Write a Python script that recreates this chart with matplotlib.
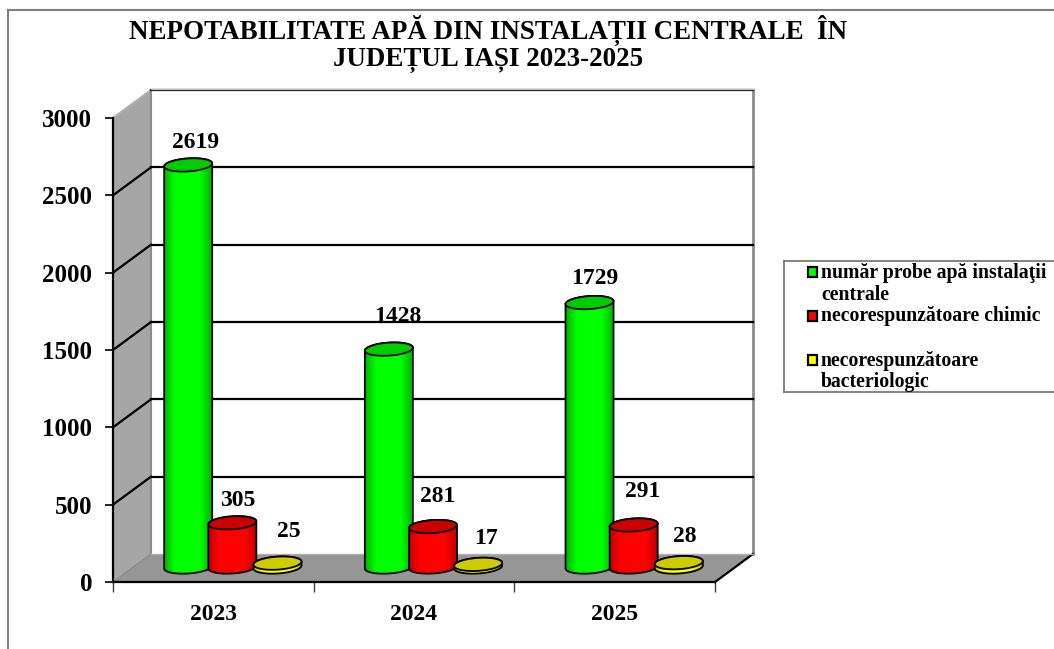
import matplotlib
matplotlib.use('Agg')
import matplotlib.pyplot as plt
from matplotlib.colors import LinearSegmentedColormap
from matplotlib.lines import Line2D
from matplotlib.patches import Polygon, Rectangle
import numpy as np

years = ['2023', '2024', '2025']
probe = [2619, 1428, 1729]
chimic = [305, 281, 291]
bacterio = [25, 17, 28]
yticks = [0, 500, 1000, 1500, 2000, 2500, 3000]

title_lines = ['NEPOTABILITATE APĂ DIN INSTALAȚII CENTRALE  ÎN', 'JUDEȚUL IAȘI 2023-2025']

W, H = 1054, 649
plt.rcParams['font.family'] = ['Liberation Serif', 'DejaVu Serif']
plt.rcParams['font.weight'] = 'bold'

fig = plt.figure(figsize=(W / 100, H / 100), dpi=100, facecolor='white')
# the axes is the front plane of the fake 3D box
ax = fig.add_axes([113 / W, (H - 582) / H, 602 / W, 464 / H])
ax.set_xlim(0, 3)
ax.set_ylim(0, 3000)
ax.patch.set_visible(False)

# pixels to data units
px_x = 3 / 602
px_y = 3000 / 464
depth_x = 38 * px_x
depth_y = 28 * px_y


def box(points, color, z):
    ax.add_patch(Polygon(points, closed=True, facecolor=color, edgecolor='none',
                         clip_on=False, zorder=z))


def line(xs, ys, color='black', lw=1.6, z=2):
    ax.add_line(Line2D(xs, ys, color=color, lw=lw, clip_on=False, zorder=z))


# walls
box([(0, 0), (depth_x, depth_y), (depth_x, 3000 + depth_y), (0, 3000)], '#a6a6a6', 1)
box([(0, 0), (depth_x, depth_y), (3 + depth_x, depth_y), (3, 0)], '#969696', 1)
line([depth_x, depth_x], [depth_y, 3000 + depth_y], '#8c8c8c', 1.5)
line([3 + depth_x, 3 + depth_x], [depth_y, 3000 + depth_y], '#8c8c8c', 2)
line([0, depth_x], [3000, 3000 + depth_y], '#b0b0b0', 1.5)
line([depth_x, 3 + depth_x], [3000 + depth_y, 3000 + depth_y], 'black', 1.6)
line([depth_x, 3 + depth_x], [3000 + depth_y + 6, 3000 + depth_y + 6], '#c0c0c0', 1)
line([3, 3 + depth_x], [0, depth_y], 'black', 1.6, 2)
line([0, depth_x], [0, depth_y], '#8c8c8c', 1, 2)
line([depth_x, 3 + depth_x], [depth_y, depth_y], '#b0b0b0', 1, 2)

# grid on side and back wall
for v in yticks[1:-1]:
    line([0, depth_x], [v, v + depth_y])
    line([depth_x, 3 + depth_x], [v + depth_y, v + depth_y])

half_w = 24 * px_x
half_h = 6.5 * px_y
tilt = 1.5 * px_y
mid_x = depth_x / 2
base_y = 15 * px_y
top_base_y = 12 * px_y


def ellipse(cx, cy, t):
    return np.column_stack([cx + half_w * np.cos(t),
                            cy + half_h * np.sin(t) + tilt * np.cos(t)])


def cylinder(cx, value, dark, bright, top_color, z):
    # flat discs keep their small height
    top = base_y + value if value < 100 else top_base_y + value
    t_low = np.linspace(np.pi, 2 * np.pi, 60)
    t_up = np.linspace(0, np.pi, 60)
    outline = np.vstack([ellipse(cx, base_y, t_low), ellipse(cx, top, t_up)])

    cmap = LinearSegmentedColormap.from_list('c', [(0, dark), (0.22, bright), (0.75, bright), (1, dark)])
    im = ax.imshow(np.linspace(0, 1, 64).reshape(1, -1), cmap=cmap, aspect='auto',
                   extent=[cx - half_w, cx + half_w, base_y - 2 * half_h, top + 2 * half_h],
                   zorder=z)
    body = Polygon(outline, closed=True, facecolor='none', edgecolor='black', lw=1.3, zorder=z + 0.1)
    ax.add_patch(body)
    im.set_clip_path(body)
    ax.add_patch(Polygon(ellipse(cx, top, np.linspace(0, 2 * np.pi, 120)), closed=True,
                         facecolor=top_color, edgecolor='black', lw=1.3, zorder=z + 0.2))


series = [
    (probe, -0.22, '#00b400', '#00ff00', '#00cc00'),
    (chimic, 0.0, '#c00000', '#ff0000', '#cc0000'),
    (bacterio, 0.225, '#c8c800', '#ffff00', '#cccc00'),
]
# data labels were moved by hand in the original, offsets in px from the bar top
label_dx = [[7, 9, 5], [5, 5, 9], [11, 8, 6]]
label_dy = [[19, 30, 21], [19, 27, 30], [32, 26, 26]]

z = 3
for s, (vals, off, dark, bright, top_color) in enumerate(series):
    for i, v in enumerate(vals):
        cx = i + 0.5 + off + mid_x
        cylinder(cx, v, dark, bright, top_color, z)
        ax.text(cx + label_dx[s][i] * px_x, base_y + v + label_dy[s][i] * px_y, str(v),
                ha='center', va='center', fontsize=17, color='black', zorder=20, clip_on=False)
        z += 1

ax.set_xlim(0, 3)
ax.set_ylim(0, 3000)

# axes
for name in ['top', 'right']:
    ax.spines[name].set_visible(False)
for name in ['left', 'bottom']:
    ax.spines[name].set_linewidth(1.6)
    ax.spines[name].set_zorder(2.5)
ax.set_yticks(yticks)
ax.set_yticklabels([str(v) for v in yticks], fontsize=18)
ax.tick_params(axis='y', length=6, width=1.2, pad=9)
ax.set_xticks([0, 1, 2, 3])
ax.set_xticklabels([])
ax.tick_params(axis='x', which='major', length=7, width=1, color='#404040')
ax.set_xticks([0.5, 1.5, 2.5], minor=True)
ax.set_xticklabels(years, minor=True, fontsize=17)
ax.tick_params(axis='x', which='minor', length=0, pad=16)


# figure level stuff in pixel coordinates
def fx(x):
    return x / W


def fy(y):
    return (H - y) / H


fig.add_artist(Line2D([fx(8), fx(8)], [fy(10), fy(649)], color='#808080', lw=1.5))
fig.add_artist(Line2D([fx(8), fx(1054)], [fy(10), fy(10)], color='#808080', lw=1.5))

fig.text(fx(488), fy(30), title_lines[0], ha='center', va='center', fontsize=19.45)
fig.text(fx(488), fy(60), title_lines[1], ha='center', va='center', fontsize=19.45)

# legend box, its right side runs off the picture
for xs, ys in [([784, 1054], [261, 261]), ([784, 784], [261, 392]), ([784, 1054], [392, 392])]:
    fig.add_artist(Line2D([fx(x) for x in xs], [fy(y) for y in ys], color='#707070', lw=1.2))

legend_rows = [
    ('#00ff00', 272, ['număr probe apă instalaţii', 'centrale'], [273, 295]),
    ('#ff0000', 316, ['necorespunzătoare chimic'], [316]),
    ('#ffff00', 360, ['necorespunzătoare', 'bacteriologic'], [361, 382]),
]
for color, sy, rows, text_y in legend_rows:
    fig.add_artist(Rectangle((fx(808), fy(sy + 5)), 9 / W, 10 / H, facecolor=color, edgecolor='black',
                             lw=1.6, transform=fig.transFigure))
    for txt, y in zip(rows, text_y):
        fig.text(fx(821), fy(y), txt, ha='left', va='center', fontsize=14.2)

fig.savefig('out.png', dpi=100)
